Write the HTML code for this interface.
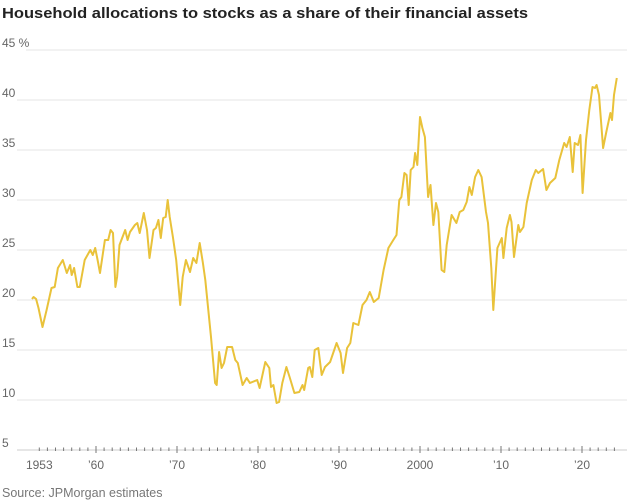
<!DOCTYPE html>
<html><head><meta charset="utf-8"><style>
html,body{margin:0;padding:0;background:#fff}
svg{display:block;font-family:"Liberation Sans",sans-serif}
</style></head><body>
<svg id="chart" width="627" height="502">
<text x="2" y="18" font-size="14.5" font-weight="bold" fill="#222" textLength="526" lengthAdjust="spacingAndGlyphs">Household allocations to stocks as a share of their financial assets</text>
<g id="grid"></g>
<g id="xaxis"></g>
<path id="line" fill="none" stroke="#e9c23a" stroke-width="2" stroke-linejoin="round"></path>
<text x="2" y="497" font-size="12.5" fill="#777">Source: JPMorgan estimates</text>
</svg>
<script>
const yTicks=[5,10,15,20,25,30,35,40,45];
const yTickLabels=["5","10","15","20","25","30","35","40","45 %"];
const xTickYears=[1953,1960,1970,1980,1990,2000,2010,2020];
const xTickLabels=["1953","\u201960","\u201970","\u201980","\u201990","2000","\u201910","\u201920"];
const years=[1952.1,1952.3,1952.6,1952.9,1953.4,1953.9,1954.5,1954.9,1955.3,1955.9,1956.4,1956.8,1957.0,1957.3,1957.7,1958.0,1958.6,1959.3,1959.6,1959.9,1960.2,1960.5,1961.1,1961.5,1961.8,1962.1,1962.4,1962.6,1962.9,1963.6,1963.9,1964.2,1964.8,1965.1,1965.4,1965.9,1966.3,1966.6,1967.1,1967.4,1967.7,1968.0,1968.3,1968.6,1968.85,1969.1,1969.5,1969.9,1970.4,1970.7,1971.1,1971.6,1972.0,1972.4,1972.8,1973.2,1973.5,1973.9,1974.2,1974.7,1974.9,1975.2,1975.5,1975.8,1976.2,1976.8,1977.2,1977.5,1978.1,1978.6,1979.0,1979.9,1980.2,1980.9,1981.4,1981.6,1981.9,1982.3,1982.6,1983.0,1983.5,1983.9,1984.5,1985.1,1985.5,1985.7,1986.2,1986.4,1986.7,1987.0,1987.45,1987.86,1988.27,1988.9,1989.7,1990.2,1990.5,1991.0,1991.4,1991.77,1992.4,1992.9,1993.4,1993.8,1994.3,1994.9,1995.5,1996.1,1996.7,1997.1,1997.45,1997.7,1998.07,1998.35,1998.6,1998.85,1999.2,1999.4,1999.67,2000.0,2000.3,2000.6,2001.0,2001.3,2001.65,2001.97,2002.26,2002.67,2003.0,2003.3,2003.9,2004.5,2004.9,2005.35,2005.76,2006.1,2006.4,2006.8,2007.2,2007.6,2008.15,2008.4,2008.8,2009.05,2009.55,2010.1,2010.3,2010.7,2011.1,2011.3,2011.6,2012.14,2012.35,2012.76,2013.17,2013.8,2014.3,2014.6,2015.2,2015.6,2016.05,2016.7,2017.2,2017.8,2018.1,2018.5,2018.85,2019.1,2019.5,2019.8,2020.08,2020.5,2020.9,2021.3,2021.6,2021.8,2022.1,2022.6,2023.0,2023.5,2023.7,2023.95,2024.3];
const values=[20.1,20.3,20.1,19.2,17.3,19.0,21.2,21.3,23.2,24.0,22.7,23.5,22.5,23.2,21.3,21.3,24.0,25.0,24.5,25.2,24.0,22.7,26.0,26.0,27.0,26.7,21.3,22.3,25.5,27.0,26.0,26.8,27.5,27.7,26.7,28.7,27.0,24.2,27.0,27.2,28.0,26.2,28.2,28.3,30.0,28.3,26.3,24.0,19.5,22.3,24.0,22.8,24.2,23.7,25.7,23.7,22.0,18.7,16.3,11.7,11.5,14.8,13.2,13.7,15.3,15.3,14.0,13.7,11.5,12.2,11.7,12.0,11.2,13.8,13.2,11.3,11.5,9.7,9.8,11.7,13.3,12.3,10.7,10.8,11.5,11.0,13.2,13.3,12.3,15.0,15.2,12.5,13.3,13.8,15.7,14.7,12.7,15.2,15.7,17.7,17.5,19.5,20.0,20.8,19.8,20.2,23.0,25.2,26.0,26.5,30.0,30.3,32.7,32.5,29.5,33.0,33.3,34.7,33.5,38.3,37.2,36.3,30.3,31.5,27.5,29.7,28.8,23.0,22.8,25.5,28.5,27.7,28.8,29.0,29.8,31.3,30.5,32.3,33.0,32.3,28.8,27.7,23.2,19.0,25.2,26.2,24.2,27.2,28.5,27.8,24.3,27.5,26.8,27.3,29.7,32.0,33.0,32.7,33.1,31.0,31.7,32.2,34.0,35.7,35.3,36.3,32.8,35.7,35.5,36.5,30.7,36.0,39.0,41.3,41.2,41.5,40.5,35.2,36.8,38.7,38.0,40.5,42.2];
const NS="http://www.w3.org/2000/svg";
function xScale(yr){return 96+(yr-1960)*8.1;}
function yScale(v){return 450-(v-5)*10;}
function mk(tag,attrs,parent){const e=document.createElementNS(NS,tag);for(const k in attrs)e.setAttribute(k,attrs[k]);parent.appendChild(e);return e;}
const grid=document.getElementById('grid');
yTicks.forEach((t,i)=>{
  if(t>5){
    const l=mk('line',{x1:i===yTicks.length-1?26:17,x2:627,y1:yScale(t),y2:yScale(t),stroke:'#e6e6e6','stroke-width':1},grid);
    
    
  }
  const tx=mk('text',{x:2,y:yScale(t)-3,'font-size':12,fill:'#666'},grid);
  tx.textContent=yTickLabels[i];
  
  
});
const xa=document.getElementById('xaxis');
const ax=mk('line',{x1:17,x2:627,y1:450,y2:450,stroke:'#999','stroke-width':0.6},xa);


for(let yr=1953;yr<=2024;yr++){
  const major=yr%10===0;
  const tk=mk('line',{x1:xScale(yr),x2:xScale(yr),y1:major?446:447.5,y2:major?453:451,stroke:'#777','stroke-width':1},xa);
  
  
}
xTickYears.forEach((yr,i)=>{
  const tx=mk('text',{x:xScale(yr),y:469,'font-size':12,fill:'#666','text-anchor':'middle'},xa);
  tx.textContent=xTickLabels[i];
  
  
});
let d='';
years.forEach((yr,i)=>{d+=(i?'L':'M')+xScale(yr).toFixed(1)+','+yScale(values[i]).toFixed(1);});
document.getElementById('line').setAttribute('d',d);
</script>
</body></html>
